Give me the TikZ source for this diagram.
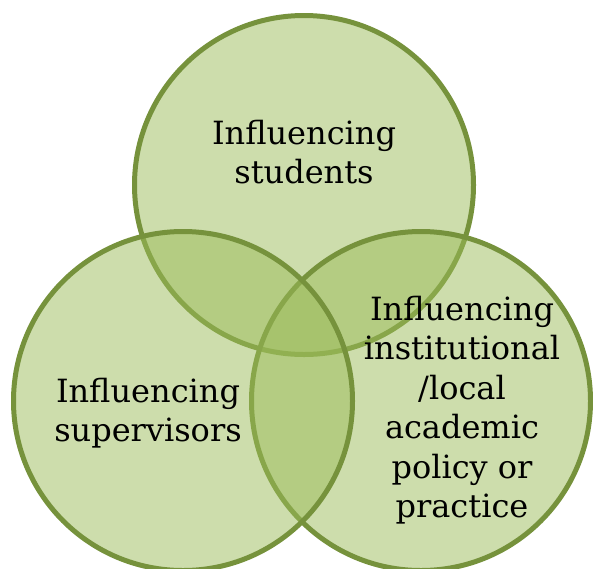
\documentclass[tikz,border=0pt]{standalone}
\usepackage{fontspec}
\setmainfont{DejaVu Serif}
\usepackage{tikz}
\usetikzlibrary{positioning}
\definecolor{olivefill}{HTML}{9BBB59}
\definecolor{olivedark}{HTML}{76923C}

\begin{document}
\begin{tikzpicture}[x=1pt, y=-1pt,
  ring/.style={circle, draw=olivedark, line width=5pt, fill=olivefill,
    fill opacity=0.5, minimum size=339pt, inner sep=0pt},
  lbl/.style={align=center, text=black, inner sep=0pt,
    font=\fontsize{32}{39.5}\selectfont}
]
\useasboundingbox (0,0) rectangle (593,568);

%─── CIRCLES ─────────────────────────────────────────────────────────────────
\node[ring] (S) at (304,185) {};
\node[ring] (P) at (421,401) {};
\node[ring] (V) at (183,401) {};

%─── LABELS ──────────────────────────────────────────────────────────────────
\node[lbl] (SL) at (304,152) {Influencing\\students};
\node[lbl] (VL) at (148,413) {Influencing\\supervisors};
\node[lbl] (PL) at (462,410) {Influencing\\institutional\\/local\\academic\\policy or\\practice};

\end{tikzpicture}
\end{document}
